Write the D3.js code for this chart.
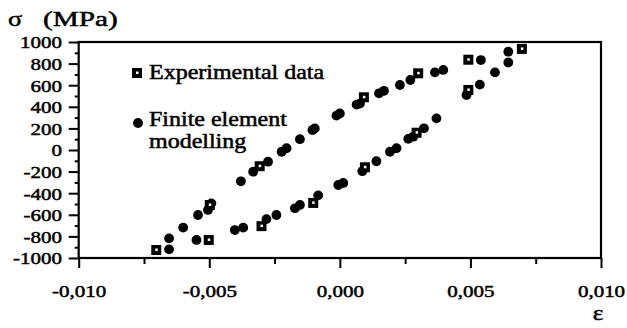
<!DOCTYPE html>
<html>
<head>
<meta charset="utf-8">
<script src="https://cdn.jsdelivr.net/npm/d3@7"></script>
<style>
  body { margin: 0; background: #fff; }
</style>
</head>
<body>
<svg id="chart" width="627" height="328"></svg>
<script>
// finite element model, loading branch (strain, stress MPa)
var feUpStrain = [-0.00654, -0.0060, -0.00543, -0.00505, -0.00492, -0.00379, -0.00332, -0.00275, -0.00223, -0.00204,
  -0.00153, -0.00105, -0.00096, -0.00013, 0.0, 0.00064, 0.00077, 0.0015, 0.00169, 0.0023, 0.0027, 0.00364, 0.00396, 0.0054, 0.00645];
var feUpStress = [-818, -719, -602, -555, -494, -290, -201, -108, -16, 16,
  100, 185, 200, 318, 338, 420, 430, 525, 548, 602, 648, 719, 741, 833, 910];
// finite element model, unloading branch
var feDownStrain = [0.00645, 0.00594, 0.00536, 0.00485, 0.0037, 0.00322, 0.00281, 0.00262, 0.00217, 0.00192,
  0.0014, 0.00086, 0.00013, -0.00006, -0.00083, -0.00153, -0.00172, -0.00243, -0.00281, -0.0037, -0.00402, -0.00549, -0.00654];
var feDownStress = [810, 719, 605, 509, 293, 201, 123, 103, 16, -16,
  -104, -196, -305, -324, -420, -509, -540, -602, -640, -719, -741, -833, -920];
// experimental data
var expStrain = [-0.00703, -0.00498, -0.00307, 0.00092, 0.003, 0.00492, 0.00697,
  0.00492, 0.00294, 0.00096, -0.00102, -0.003, -0.00502];
var expStress = [-926, -509, -150, 488, 710, 836, 936,
  556, 160, -160, -490, -705, -833];

var xTicks = [-0.01, -0.005, 0, 0.005, 0.01];
var xMinor = [-0.0075, -0.0025, 0.0025, 0.0075];
var yTicks = [-1000, -800, -600, -400, -200, 0, 200, 400, 600, 800, 1000];
var yMinor = [-900, -700, -500, -300, -100, 100, 300, 500, 700, 900];

var svg = d3.select("#chart");
var font = "'Liberation Serif', 'Times New Roman', serif";
var sxNum = 1.2, sxTxt = 1.2; // scanned text is wider than the font

var x = d3.scaleLinear().domain([-0.01, 0.01]).range([78.7, 601]);
var y = d3.scaleLinear().domain([-1000, 1000]).range([258, 42]);

function fmtX(d) { return d3.format(".3f")(d).replace(".", ",").replace("\u2212", "-"); }
function styleText(sel, size) {
  sel.attr("font-family", null).style("font-family", font).style("font-size", size + "px")
    .attr("fill", "#000").attr("stroke", "#000").attr("stroke-width", 0.5);
}

// x axis
var gx = svg.append("g").attr("transform", "translate(0,258)");
gx.call(d3.axisBottom(x).tickValues(xTicks).tickSize(10).tickFormat(fmtX));
gx.append("g").call(d3.axisBottom(x).tickValues(xMinor).tickSize(6).tickFormat(""));
gx.selectAll(".domain").remove();
gx.selectAll("line").attr("stroke", "#000").attr("stroke-width", 2);
gx.selectAll("text").attr("y", 0).attr("dy", 0)
  .attr("transform", "translate(0,39) scale(" + sxNum + ",1)")
  .call(styleText, 17.5);

// y axis
var gy = svg.append("g").attr("transform", "translate(78.7,0)");
gy.call(d3.axisLeft(y).tickValues(yTicks).tickSize(10).tickFormat(function (d) { return String(d); }));
gy.append("g").call(d3.axisLeft(y).tickValues(yMinor).tickSize(4).tickFormat(""));
gy.selectAll(".domain").remove();
gy.selectAll("line").attr("stroke", "#000").attr("stroke-width", 2);
gy.selectAll("text").attr("x", -16.7 / sxNum).attr("dy", "0.34em")
  .attr("transform", "scale(" + sxNum + ",1)")
  .call(styleText, 17.5);

// frame
svg.append("rect")
  .attr("x", x(-0.01)).attr("y", y(1000))
  .attr("width", x(0.01) - x(-0.01)).attr("height", y(-1000) - y(1000))
  .attr("fill", "none").attr("stroke", "#000").attr("stroke-width", 2.2);

// finite element points
var fe = d3.zip(feUpStrain, feUpStress).concat(d3.zip(feDownStrain, feDownStress));
svg.append("g").selectAll("circle").data(fe).enter().append("circle")
  .attr("cx", function (d) { return x(d[0]); })
  .attr("cy", function (d) { return y(d[1]); })
  .attr("r", 4.9).attr("fill", "#000");

// experimental squares
function square(g, cx, cy) {
  g.append("rect").attr("x", cx - 5).attr("y", cy - 5).attr("width", 10).attr("height", 10).attr("fill", "#000");
  g.append("rect").attr("x", cx - 1).attr("y", cy - 1.5).attr("width", 2.5).attr("height", 2.5).attr("fill", "#fff");
}
var gs = svg.append("g");
d3.zip(expStrain, expStress).forEach(function (d) { square(gs, x(d[0]), y(d[1])); });

// legend
var lg = svg.append("g");
square(lg, 137, 73);
lg.append("circle").attr("cx", 138).attr("cy", 123).attr("r", 4.9).attr("fill", "#000");
function label(txt, px, py, size, anchor, s) {
  svg.append("text").attr("transform", "translate(" + px + "," + py + ") scale(" + (s || sxTxt) + ",1)")
    .attr("text-anchor", anchor || "start").text(txt).call(styleText, size);
}
label("Experimental data", 149, 79, 20);
label("Finite element", 149, 126, 20);
label("modelling", 149, 148, 20);

// axis titles
label("\u03c3", 8, 26, 22);
label("(MPa)", 43, 26, 22, "start", 1.33);
label("\u03b5", 598, 320, 21, "middle");
</script>
</body>
</html>
